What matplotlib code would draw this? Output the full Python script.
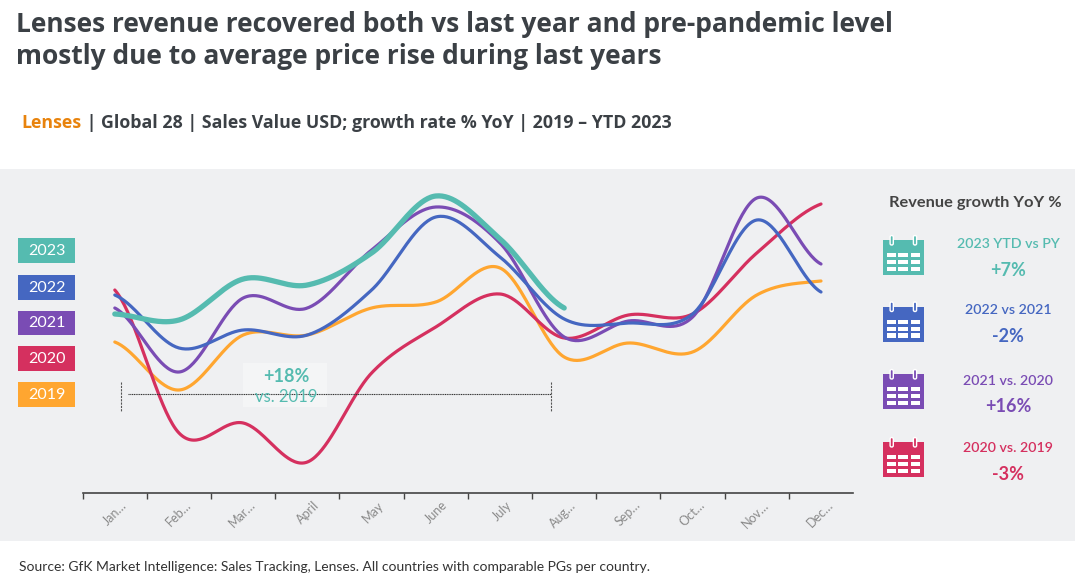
import numpy as np
import matplotlib
matplotlib.use("Agg")
import matplotlib.pyplot as plt
import matplotlib.transforms as mtrans
from matplotlib.patches import Rectangle, FancyBboxPatch

# ---------------- data (relative sales value index) -------------
months = ["Jan…", "Feb…", "Mar…", "April", "May", "June", "July",
          "Aug…", "Sep…", "Oct…", "Nov…", "Dec…"]
years = ["2023", "2022", "2021", "2020", "2019"]
v2023 = [186, 180, 221, 215, 247, 304, 261, 192]
v2022 = [205, 152, 170, 165, 210, 283, 243, 181, 177, 186, 280, 208]
v2021 = [192, 128, 202, 192, 250, 293, 257, 163, 179, 183, 302, 236]
v2020 = [210, 67, 77, 38, 127, 173, 206, 162, 185, 186, 247, 296]
v2019 = [158, 110, 165, 165, 192, 198, 232, 143, 157, 148, 205, 219]
growth_labels = ["2023 YTD vs PY", "2022 vs 2021", "2021 vs. 2020", "2020 vs. 2019"]
growth_values = ["+7%", "-2%", "+16%", "-3%"]
annot_value = "+18%"
annot_label = "vs. 2019"

colors = {"2023": "#55bbb0", "2022": "#4567c1", "2021": "#7a4cb4",
          "2020": "#d5305f", "2019": "#ffa630"}
series = {"2023": v2023, "2022": v2022, "2021": v2021, "2020": v2020, "2019": v2019}

W, H = 1075, 576
fig = plt.figure(figsize=(W / 100, H / 100), dpi=100)
fig.patch.set_facecolor("white")

BG = "#eff0f2"
DARK = "#3b4045"

# background layer (pixel coordinates)
bg = fig.add_axes([0, 0, 1, 1], zorder=0)
bg.set_xlim(0, W); bg.set_ylim(H, 0); bg.axis("off")
bg.add_patch(Rectangle((0, 169), W, 372, facecolor=BG, edgecolor="none"))

# ---------------- main plot ----------------
x_left, x_right = 82.7, 853.1
y_top, y_bot = 170.0, 492.7
ax = fig.add_axes([x_left / W, 1 - y_bot / H, (x_right - x_left) / W, (y_bot - y_top) / H],
                  zorder=2)
ax.set_facecolor("none")
ax.set_xlim(-0.5, 11.5)
ax.set_ylim(500 - y_bot, 500 - y_top)


def smooth(vals, n=40):
    y = np.asarray(vals, float)
    k = len(y)
    m = np.zeros(k)
    m[1:-1] = (y[2:] - y[:-2]) / 2.0
    m[0] = (y[1] - y[0]) / 2.0
    m[-1] = (y[-1] - y[-2]) / 2.0
    xs, ys = [], []
    t = np.linspace(0, 1, n, endpoint=False)
    h00 = 2 * t**3 - 3 * t**2 + 1
    h10 = t**3 - 2 * t**2 + t
    h01 = -2 * t**3 + 3 * t**2
    h11 = t**3 - t**2
    for i in range(k - 1):
        xs.append(i + t)
        ys.append(h00 * y[i] + h10 * m[i] + h01 * y[i + 1] + h11 * m[i + 1])
    xs.append([k - 1]); ys.append([y[-1]])
    return np.concatenate(xs), np.concatenate(ys)


for yr in ["2019", "2020", "2021", "2022", "2023"]:
    xs, ys = smooth(series[yr])
    lw = 3.8 if yr == "2023" else 2.3
    ax.plot(xs, ys, color=colors[yr], lw=lw, solid_capstyle="round",
            solid_joinstyle="round", zorder=3 if yr == "2023" else 2)

for s in ["top", "right", "left"]:
    ax.spines[s].set_visible(False)
ax.spines["bottom"].set_color("#444444")
ax.spines["bottom"].set_linewidth(1.2)
ax.set_yticks([])
ax.set_xticks(np.arange(12))
ax.set_xticklabels(months, rotation=45, ha="right", va="center",
                   rotation_mode="anchor", fontsize=9, color="#8a8a8a",
                   family="Lato")
ax.tick_params(axis="x", which="major", length=0, pad=7.5)
ax.set_xticks(np.arange(-0.5, 11, 1.0), minor=True)
ax.tick_params(axis="x", which="minor", length=4, width=1.0, color="#444444")
for lab in ax.get_xticklabels():
    lab.set_transform(lab.get_transform() + mtrans.ScaledTranslation(10 / 100, 0, fig.dpi_scale_trans))

# ---------------- overlay (pixel coordinates) ----------------
ov = fig.add_axes([0, 0, 1, 1], zorder=4)
ov.set_facecolor("none")
ov.set_xlim(0, W); ov.set_ylim(H, 0); ov.axis("off")

# title
ov.text(16, 32, "Lenses revenue recovered both vs last year and pre-pandemic level",
        fontsize=19, fontweight="bold", family="Open Sans", color=DARK, va="baseline")
ov.text(16, 64, "mostly due to average price rise during last years",
        fontsize=19, fontweight="bold", family="Open Sans", color=DARK, va="baseline")

# subtitle
t1 = ov.text(21, 128, "Lenses", fontsize=12.8, fontweight="bold", family="Open Sans",
             color="#e8830d", va="baseline")
fig.canvas.draw()
r = fig.canvas.get_renderer()
bb = t1.get_window_extent(renderer=r)
x_after = bb.x1 / fig.dpi * 100
ov.text(x_after + 1, 128, " | Global 28 | Sales Value USD; growth rate % YoY | 2019 – YTD 2023",
        fontsize=12.8, fontweight="bold", family="Open Sans", color=DARK, va="baseline")

# year legend boxes
box_tops = [238.3, 275.3, 310.5, 346.2, 382.2]
for yr, top in zip(years, box_tops):
    ov.add_patch(Rectangle((18.3, top), 56.7, 24.5, facecolor=colors[yr], edgecolor="none"))
    ov.text(46.6, top + 12.8, yr, fontsize=11.5, family="Lato", color="white",
            ha="center", va="center")

# annotation
ov.plot([121.3, 121.3], [382, 411.7], color="#555555", lw=0.8, ls=(0, (2, 1)))
ov.plot([551, 551], [382, 411.7], color="#555555", lw=0.8, ls=(0, (2, 1)))
ov.plot([128, 551], [394.3, 394.3], color="#333333", lw=0.8, ls=(0, (1, 0.6)))
ov.add_patch(Rectangle((243, 363), 84, 44, facecolor="#f4f5f6", edgecolor="none"))
ov.text(286, 376.5, annot_value, fontsize=13, fontweight="bold", family="Lato",
        color=colors["2023"], ha="center", va="center")
ov.text(286, 397.5, annot_label, fontsize=12, family="Lato",
        color=colors["2023"], ha="center", va="center")

# right panel
ov.text(975, 202.7, "Revenue growth YoY %", fontsize=11.8, fontweight="bold",
        family="Lato", color="#444444", ha="center", va="center")


def calendar(x0, y0, c):
    w = 41.6
    ov.add_patch(Rectangle((x0, y0), w, 35, facecolor=c, edgecolor="none"))
    for rx in (x0 + 9.0, x0 + 32.3):
        ov.add_patch(FancyBboxPatch((rx - 1.6, y0 - 4.5), 3.2, 9.5,
                                    boxstyle="round,pad=0,rounding_size=1.5",
                                    facecolor=c, edgecolor="white", lw=1.0))
    cols = [(4.0, 9.3), (15.6, 9.4), (28.0, 9.3)]
    rows = [(13.3, 4.0), (20.0, 4.3), (26.7, 4.3)]
    for cx, cw in cols:
        for ry, rh in rows:
            ov.add_patch(Rectangle((x0 + cx, y0 + ry), cw, rh, facecolor="white",
                                   edgecolor="none"))


icon_tops = [240, 306.5, 374, 442]
label_y = [244.3, 310.5, 380.7, 448.3]
value_y = [271, 336.5, 406.7, 475]
gcols = [colors["2023"], colors["2022"], colors["2021"], colors["2020"]]
for top, ly, vy, lab, val, c in zip(icon_tops, label_y, value_y, growth_labels,
                                    growth_values, gcols):
    calendar(882.7, top, c)
    ov.text(1008, ly, lab, fontsize=10.2, fontweight="semibold", family="Lato",
            color=c, ha="center", va="center")
    ov.text(1008, vy, val, fontsize=13, fontweight="bold", family="Lato", color=c,
            ha="center", va="center")

# footer
ov.text(19, 567, "Source: GfK Market Intelligence: Sales Tracking, Lenses. All countries with "
        "comparable PGs per country.", fontsize=10, family="Lato", color="#333333",
        va="center")

fig.savefig("out.png", dpi=100, facecolor="white")
